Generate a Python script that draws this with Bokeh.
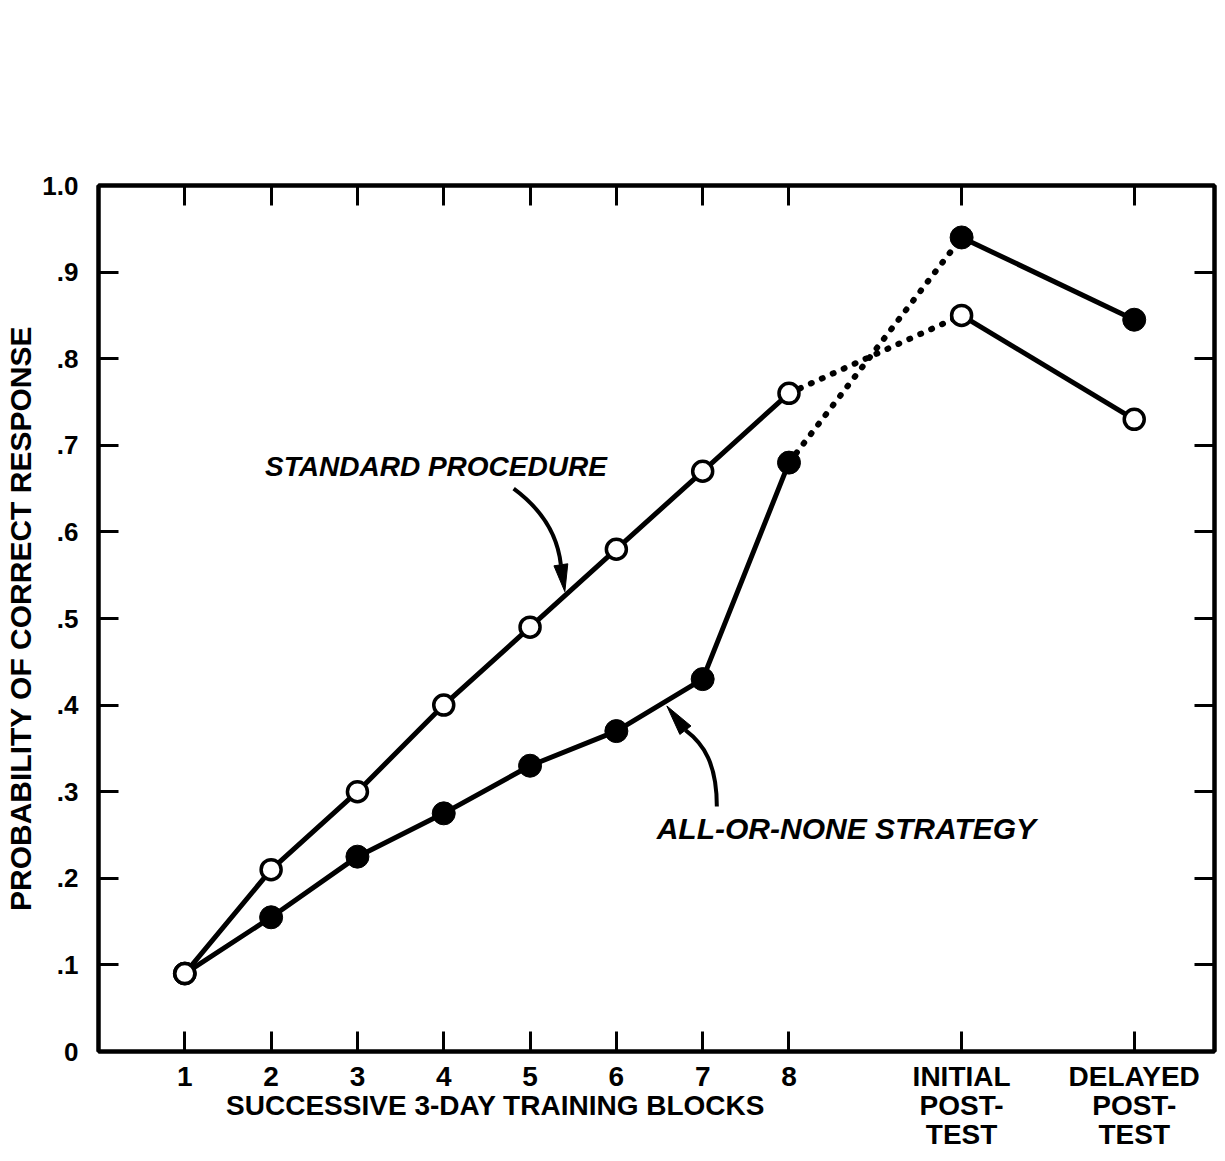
from bokeh.plotting import figure
from bokeh.models import Range1d, FixedTicker, LinearAxis, Label
from bokeh.embed import file_html
from bokeh.resources import INLINE

# ---- data ----
blocks = [1, 2, 3, 4, 5, 6, 7, 8, 10, 12]
standard = [0.09, 0.21, 0.30, 0.40, 0.49, 0.58, 0.67, 0.76, 0.85, 0.73]
all_or_none = [0.09, 0.155, 0.225, 0.275, 0.33, 0.37, 0.43, 0.68, 0.94, 0.845]
x_tick_labels = ["1", "2", "3", "4", "5", "6", "7", "8",
                 "INITIAL\nPOST-\nTEST", "DELAYED\nPOST-\nTEST"]
x_title = "SUCCESSIVE 3-DAY TRAINING BLOCKS"
x_title_pos = 4.6
y_ticks = [0.0, 0.1, 0.2, 0.3, 0.4, 0.5, 0.6, 0.7, 0.8, 0.9, 1.0]
y_tick_labels = ["0", ".1", ".2", ".3", ".4", ".5", ".6", ".7", ".8", ".9", "1.0"]

FONT = "Liberation Sans"
W, H = 1217, 1153
BL, BR, BT, BB = 98, 3, 185, 100
FW, FH = W - BL - BR, H - BT - BB
XMAX, YMAX = 12.93, 1.0
SX, SY = FW / XMAX, FH / YMAX

p = figure(width=W, height=H, output_backend="svg", toolbar_location=None,
           x_range=Range1d(0, XMAX), y_range=Range1d(0, YMAX),
           min_border_left=BL, min_border_right=BR, min_border_top=BT,
           min_border_bottom=BB,
           y_axis_label="PROBABILITY OF CORRECT RESPONSE")
p.background_fill_color = "white"
p.border_fill_color = "white"
p.xgrid.visible = False
p.ygrid.visible = False
p.outline_line_color = "black"
p.outline_line_width = 4

def style_axis(ax, ticks, labels=None, show_labels=True):
    ax.ticker = FixedTicker(ticks=ticks)
    ax.major_tick_in = 20
    ax.major_tick_out = 0
    ax.minor_tick_in = 0
    ax.minor_tick_out = 0
    ax.major_tick_line_width = 3
    ax.major_tick_line_color = "black"
    ax.axis_line_width = 4
    ax.axis_line_color = "black"
    if labels is not None:
        ax.major_label_overrides = {t: l for t, l in zip(ticks, labels)}
    if not show_labels:
        ax.major_label_text_font_size = "0px"
        ax.major_label_standoff = 0

# bottom axis: tick marks only (nearest the frame)
xa = p.xaxis[0]
style_axis(xa, blocks, show_labels=False)

# second bottom axis: labels only (tick labels + title under blocks 1-8)
xl = LinearAxis()
xl.ticker = FixedTicker(ticks=blocks + [x_title_pos])
overrides = {t: l for t, l in zip(blocks, x_tick_labels)}
overrides[x_title_pos] = "\n" + x_title
xl.major_label_overrides = overrides
xl.major_tick_in = 0
xl.major_tick_out = 0
xl.minor_tick_in = 0
xl.minor_tick_out = 0
xl.axis_line_color = None
xl.major_tick_line_color = None
xl.minor_tick_line_color = None
xl.major_label_text_font = FONT
xl.major_label_text_font_size = "28px"
xl.major_label_text_font_style = "bold"
xl.major_label_text_color = "black"
xl.major_label_text_line_height = 0.95
xl.major_label_standoff = 9
p.add_layout(xl, "below")

ya = p.yaxis[0]
style_axis(ya, y_ticks, y_tick_labels)
ya.major_label_text_font = FONT
ya.major_label_text_font_size = "26px"
ya.major_label_text_font_style = "bold"
ya.major_label_text_color = "black"
ya.major_label_standoff = 20
ya.axis_label_text_font = FONT
ya.axis_label_text_font_size = "30px"
ya.axis_label_text_font_style = "bold"
ya.axis_label_text_color = "black"
ya.axis_label_standoff = 2

top = LinearAxis()
style_axis(top, blocks, show_labels=False)
p.add_layout(top, "above")
right = LinearAxis()
style_axis(right, y_ticks, show_labels=False)
p.add_layout(right, "right")

# ---- series lines ----
for ys in (standard, all_or_none):
    p.line(blocks[:8], ys[:8], line_color="black", line_width=5)
    p.line(blocks[7:9], ys[7:9], line_color="black", line_width=6,
           line_dash="1 11", line_cap="round")
    p.line(blocks[8:], ys[8:], line_color="black", line_width=5)

p.scatter(blocks, all_or_none, size=23, fill_color="black", line_color="black")
p.scatter(blocks, standard, size=20, fill_color="white", line_color="black",
          line_width=3.5)

# ---- annotations ----
def head(base, tip, half_w_px=7):
    dx, dy = (tip[0] - base[0]) * SX, (tip[1] - base[1]) * SY
    L = (dx * dx + dy * dy) ** 0.5
    px, py = -dy / L * half_w_px, dx / L * half_w_px
    xs = [tip[0], base[0] + px / SX, base[0] - px / SX]
    ys = [tip[1], base[1] + py / SY, base[1] - py / SY]
    return xs, ys

sp_start, sp_ctrl, sp_end, sp_tip = (4.81, 0.650), (5.30, 0.614), (5.357, 0.562), (5.403, 0.531)
p.quadratic(x0=[sp_start[0]], y0=[sp_start[1]], x1=[sp_end[0]], y1=[sp_end[1]],
            cx=[sp_ctrl[0]], cy=[sp_ctrl[1]], line_color="black", line_width=4)
hx, hy = head(sp_end, sp_tip)
p.patch(hx, hy, fill_color="black", line_color="black", line_width=1)

an_start, an_c1, an_c2, an_end, an_tip = (7.164, 0.283), (7.164, 0.332), (7.014, 0.355), (6.80, 0.371), (6.585, 0.399)
p.bezier(x0=[an_start[0]], y0=[an_start[1]], x1=[an_end[0]], y1=[an_end[1]],
         cx0=[an_c1[0]], cy0=[an_c1[1]], cx1=[an_c2[0]], cy1=[an_c2[1]],
         line_color="black", line_width=4)
hx, hy = head(an_end, an_tip)
p.patch(hx, hy, fill_color="black", line_color="black", line_width=1)

p.add_layout(Label(x=3.91, y=0.675, text="STANDARD PROCEDURE", text_font=FONT,
                   text_font_size="28px", text_font_style="bold italic",
                   text_align="center", text_baseline="middle", text_color="black"))
p.add_layout(Label(x=8.665, y=0.257, text="ALL-OR-NONE STRATEGY", text_font=FONT,
                   text_font_size="30px", text_font_style="bold italic",
                   text_align="center", text_baseline="middle", text_color="black"))

open("out.html", "w").write(file_html(p, INLINE))
